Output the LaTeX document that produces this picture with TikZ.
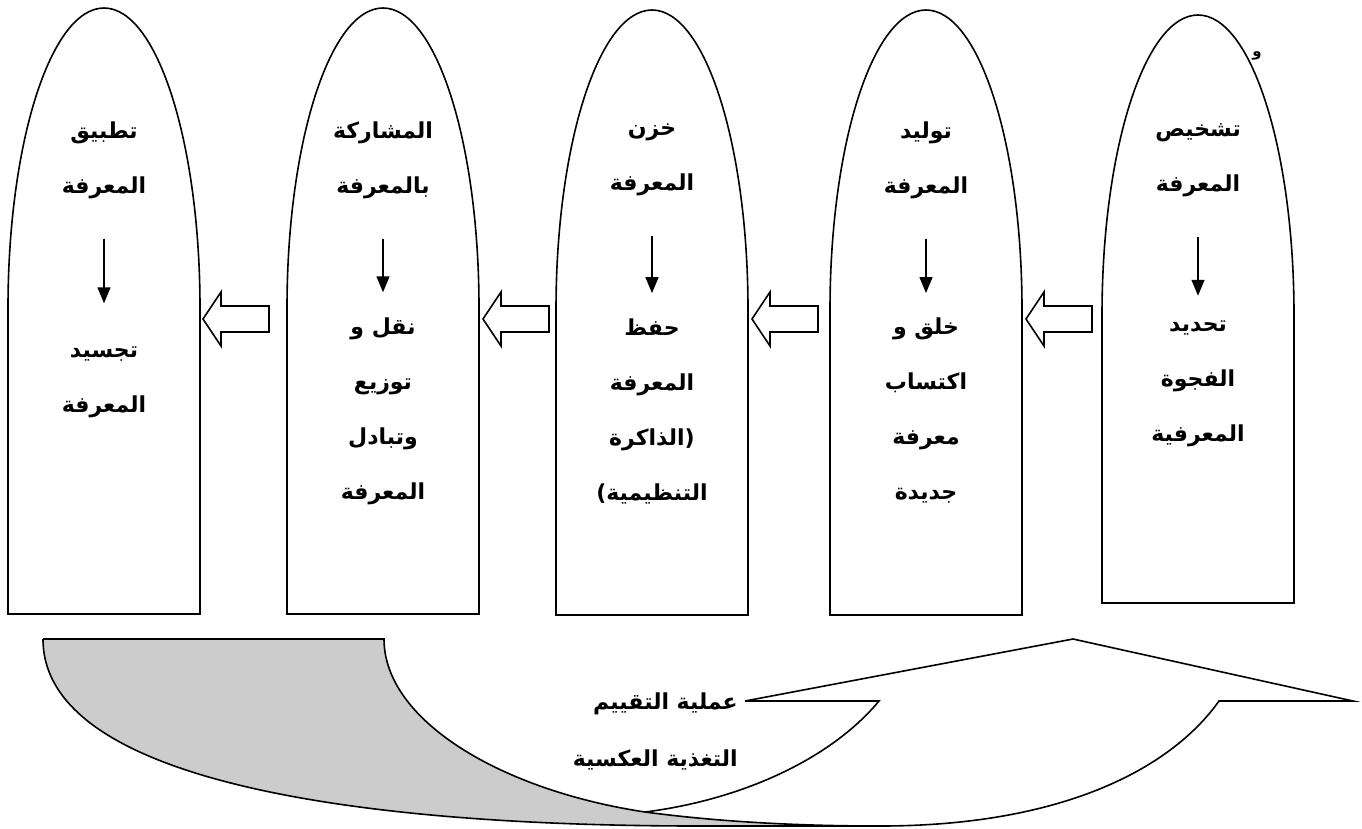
\documentclass[tikz,border=0pt]{standalone}
\usepackage{fontspec}
\newfontfamily\arabicfont[Script=Arabic]{DejaVu Sans}
\TeXXeTstate=1
\usetikzlibrary{arrows.meta, positioning}

\newcommand{\rtl}[1]{\beginR #1\endR}

\tikzset{
  arch/.style={draw, line width=1.6pt},
  blockarrow/.style={draw, line width=1.6pt, fill=white},
  outline/.style={draw, line width=1.6pt},
  word/.style={font=\arabicfont\bfseries\fontsize{22}{55}\selectfont, align=center, inner sep=0pt},
  flow/.style={-{Triangle[length=16pt,width=13pt]}, line width=1.5pt},
}

\begin{document}
\begin{tikzpicture}[x=1pt, y=-1pt]
  \useasboundingbox (0,0) rectangle (1362,828);

  % the five arches
  \foreach \x/\yb/\ya in {8/614/8, 287/614/8, 556/615/10, 830/615/10, 1102/603/15}
    \draw[arch] (\x,\yb) -- (\x,\ya+300)
      arc[start angle=180, end angle=360, x radius=96, y radius=300]
      -- (\x+192,\yb) -- cycle;

  % texts
  \node[word] (t1) at (104,160) {\rtl{تطبيق}\\\rtl{المعرفة}};
  \node[word] (b1) at (104,382) {\rtl{تجسيد}\\\rtl{المعرفة}};
  \node[word] (t2) at (383,160) {\rtl{المشاركة}\\\rtl{بالمعرفة}};
  \node[word] (b2) at (383,411) {\rtl{نقل و}\\\rtl{توزيع}\\\rtl{وتبادل}\\\rtl{المعرفة}};
  \node[word] (t3) at (652,160) {\rtl{خزن}\\\rtl{المعرفة}};
  \node[word] (b3) at (652,411) {\rtl{حفظ}\\\rtl{المعرفة}\\\rtl{الذاكرة}(\\)\rtl{التنظيمية}};
  \node[word] (t4) at (926,160) {\rtl{توليد}\\\rtl{المعرفة}};
  \node[word] (b4) at (926,411) {\rtl{خلق و}\\\rtl{اكتساب}\\\rtl{معرفة}\\\rtl{جديدة}};
  \node[word] (t5) at (1198,160) {\rtl{تشخيص}\\\rtl{المعرفة}};
  \node[word] (b5) at (1198,384) {\rtl{تحديد}\\\rtl{الفجوة}\\\rtl{المعرفية}};
  \node[font=\arabicfont\bfseries\fontsize{15}{17}\selectfont, inner sep=0pt] (waw) at (1257,56) {و};

  \draw[flow, shorten <=40pt, shorten >=43pt] (t1.south) -- (b1.north);
  \foreach \i in {2,...,5}
    \draw[flow, shorten <=40pt, shorten >=25pt] (t\i.south) -- (b\i.north);

  % hollow arrows between the arches
  \foreach \x in {203,483,752,1026}
    \draw[blockarrow] (\x,319) -- ++(18,-27) -- ++(0,14) -- ++(48,0)
      -- ++(0,26) -- ++(-48,0) -- ++(0,14) -- cycle;

  % feedback arrow underneath
  \coordinate (j) at (645,812);
  \fill[gray!40] (43,639) -- (384,639) .. controls (384,720) and (500,790) .. (j)
    .. controls (720,822) and (800,826) .. (880,826) -- (700,826)
    .. controls (330,826) and (43,775) .. (43,639) -- cycle;
  \fill[white] (j) .. controls (720,822) and (800,826) .. (880,826)
    .. controls (1060,826) and (1170,770) .. (1219,701)
    -- (1353,701) -- (1073,639) -- (745,701) -- (879,701)
    .. controls (830,760) and (740,800) .. (j);
  \draw[outline] (43,639) .. controls (43,775) and (330,826) .. (700,826) -- (880,826)
    .. controls (1060,826) and (1170,770) .. (1219,701)
    -- (1353,701) -- (1073,639) -- (745,701) -- (879,701)
    .. controls (830,760) and (740,800) .. (j);
  \draw[outline] (43,639) -- (384,639) .. controls (384,720) and (500,790) .. (j)
    .. controls (720,822) and (800,826) .. (880,826);

  \node[word, align=right, anchor=east, font=\arabicfont\bfseries\fontsize{22}{57}\selectfont] (eval) at (738,731)
    {\rtl{عملية التقييم}\\\rtl{التغذية العكسية}};
\end{tikzpicture}
\end{document}
